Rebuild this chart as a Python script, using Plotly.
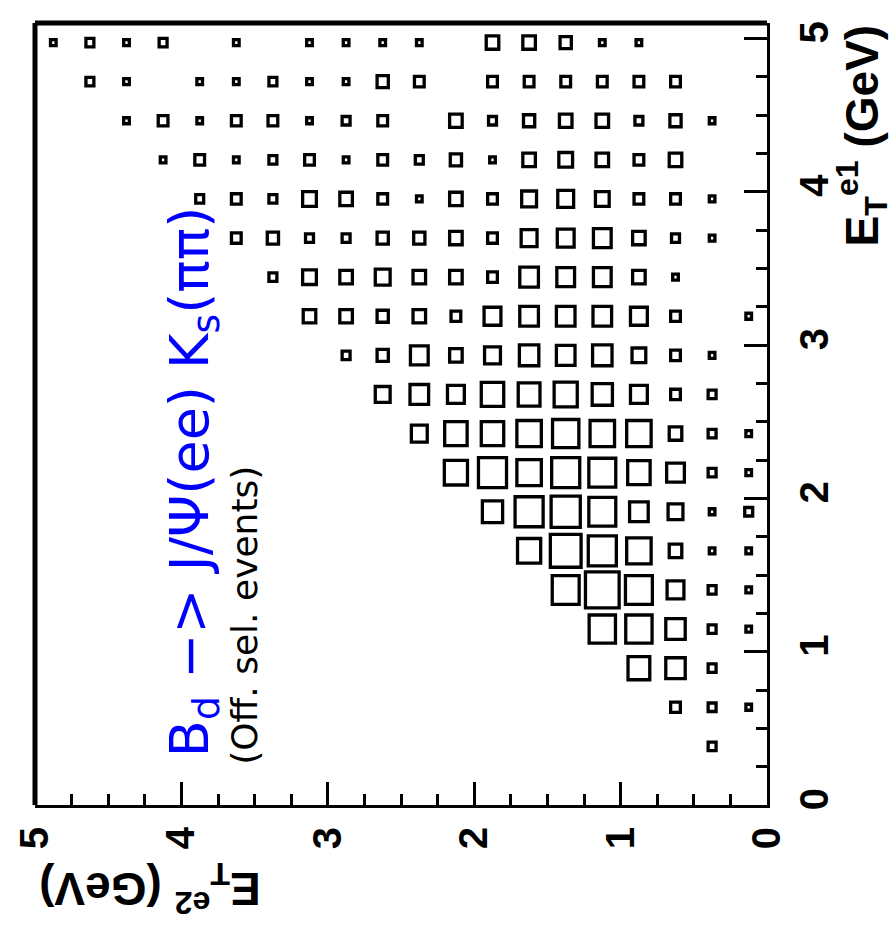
import numpy as np
import plotly.graph_objects as go

# Binning of the two transverse energies (GeV)
E2_RANGE = (0.0, 5.0)   # E_T^e2, 20 bins
E1_RANGE = (0.0, 5.1)   # E_T^e1, 20 bins
N_E2 = 20
N_E1 = 20

# Events per cell; each row is one E_T^e1 bin (lowest first),
# each entry is one E_T^e2 bin (lowest first).
counts = [
    [0] * 20,
    [0, 2] + [0] * 18,
    [1, 2, 3] + [0] * 17,
    [0, 2, 12, 15] + [0] * 16,
    [1, 2, 12, 22, 22] + [0] * 15,
    [1, 2, 9, 23, 36, 23] + [0] * 14,
    [1, 1, 5, 19, 25, 30, 17] + [0] * 13,
    [2, 1, 7, 11, 23, 27, 25, 13] + [0] * 12,
    [1, 2, 10, 16, 23, 25, 19, 25, 17] + [0] * 11,
    [1, 2, 5, 19, 19, 22, 19, 16, 16, 8] + [0] * 10,
    [0, 2, 3, 9, 13, 17, 15, 16, 9, 11, 7] + [0] * 9,
    [0, 1, 3, 6, 12, 11, 12, 8, 5, 10, 4, 2] + [0] * 8,
    [1, 0, 3, 9, 11, 11, 11, 9, 3, 5, 4, 5, 5] + [0] * 7,
    [0, 0, 1, 5, 10, 10, 11, 3, 5, 5, 7, 5, 6, 2] + [0] * 6,
    [0, 1, 2, 5, 10, 9, 8, 3, 5, 4, 4, 2, 2, 4, 3] + [0] * 5,
    [0, 1, 3, 3, 6, 8, 7, 3, 5, 1, 3, 5, 6, 2, 3, 2] + [0] * 4,
    [0, 0, 5, 3, 5, 6, 5, 1, 4, 2, 3, 1, 3, 2, 1, 3, 1] + [0] * 3,
    [0, 1, 4, 2, 5, 5, 4, 2, 5, 0, 3, 2, 1, 3, 3, 1, 3, 1, 0, 0],
    [0, 0, 3, 3, 3, 3, 3, 3, 0, 3, 4, 1, 1, 2, 1, 1, 0, 1, 2, 0],
    [0, 0, 0, 1, 1, 4, 5, 5, 0, 1, 1, 1, 1, 0, 1, 0, 2, 1, 2, 1],
]

TICKS = [0, 1, 2, 3, 4, 5]
TICK_TEXT = ["0", "1", "2", "3", "4", "5"]

TITLE_TEXT = "B<sub>d</sub> −> J/Ψ(ee) K<sub>s</sub>(ππ)"
SUBTITLE_TEXT = "(Off. sel. events)"
E1_TITLE = "<b>E<sub>T</sub><sup>e1</sup> (GeV)</b>"
E2_TITLE = "<b>E<sub>T</sub><sup>e2</sup> (GeV)</b>"

W, H = 890, 933
L, R, T, B = 31, 767, 23, 805   # plot frame in pixels

z = np.array(counts, dtype=float)
zmax = z.max()
dx2 = (E2_RANGE[1] - E2_RANGE[0]) / N_E2
dx1 = (E1_RANGE[1] - E1_RANGE[0]) / N_E1

fig = go.Figure()
# invisible trace so that both axes are created
fig.add_trace(go.Scatter(x=[None], y=[None], mode="markers", showlegend=False,
                         hoverinfo="skip"))

shapes = []
for j in range(N_E1):
    for i in range(N_E2):
        n = z[j, i]
        if n <= 0:
            continue
        frac = 0.92 * np.sqrt(n / zmax)          # box side ~ sqrt(content)
        cx = E2_RANGE[0] + (i + 0.5) * dx2
        cy = E1_RANGE[0] + (j + 0.5) * dx1
        hx = 0.5 * frac * dx2
        hy = 0.5 * frac * dx1
        shapes.append(dict(type="rect", xref="x", yref="y",
                           x0=cx - hx, x1=cx + hx, y0=cy - hy, y1=cy + hy,
                           line=dict(color="black", width=3.3),
                           fillcolor="rgba(0,0,0,0)"))

# heavier frame on the two edges without ticks
shapes.append(dict(type="line", xref="paper", yref="paper", x0=0, x1=0, y0=0, y1=1,
                   line=dict(color="black", width=5)))
shapes.append(dict(type="line", xref="paper", yref="paper", x0=0, x1=1, y0=1, y1=1,
                   line=dict(color="black", width=5)))


def px(xp):
    return (xp - L) / (R - L)


def py(yp):
    return (B - yp) / (B - T)


annotations = [
    dict(text=TITLE_TEXT, xref="paper", yref="paper", x=px(190), y=py(482),
         textangle=-90, showarrow=False, xanchor="center", yanchor="middle",
         font=dict(family="DejaVu Sans", size=54, color="#0000ff")),
    dict(text=SUBTITLE_TEXT, xref="paper", yref="paper", x=px(241), y=py(615),
         textangle=-90, showarrow=False, xanchor="center", yanchor="middle",
         font=dict(family="DejaVu Sans", size=36, color="black")),
    dict(text=E1_TITLE, xref="paper", yref="paper", x=px(862), y=py(135),
         textangle=-90, showarrow=False, xanchor="center", yanchor="middle",
         font=dict(family="Liberation Sans", size=46, color="black")),
    dict(text=E2_TITLE, xref="paper", yref="paper", x=px(146), y=py(889),
         textangle=180, showarrow=False, xanchor="center", yanchor="middle",
         font=dict(family="Liberation Sans", size=46, color="black")),
]

fig.update_layout(
    width=W, height=H,
    margin=dict(l=L, r=W - R, t=T, b=H - B, pad=0),
    paper_bgcolor="white", plot_bgcolor="white",
    shapes=shapes, annotations=annotations, showlegend=False,
    font=dict(family="Liberation Sans", color="black"),
)

bold_ticks = ["<b>%s</b>" % t for t in TICK_TEXT]

fig.update_xaxes(
    range=[E2_RANGE[1], E2_RANGE[0]], showgrid=False, zeroline=False,
    showline=True, linecolor="black", linewidth=3, mirror=False,
    ticks="inside", ticklen=23, tickwidth=3, tickcolor="black",
    tickvals=TICKS, ticktext=bold_ticks, tickangle=-90, ticklabelstandoff=3,
    tickfont=dict(family="Liberation Sans", size=40, color="black"),
    minor=dict(dtick=0.25, ticks="inside", ticklen=11, tickwidth=3, tickcolor="black",
               showgrid=False),
)
fig.update_yaxes(
    range=[E1_RANGE[0], E1_RANGE[1]], side="right", showgrid=False, zeroline=False,
    showline=True, linecolor="black", linewidth=3, mirror=False,
    ticks="inside", ticklen=23, tickwidth=3, tickcolor="black",
    tickvals=TICKS, ticktext=bold_ticks, tickangle=-90, ticklabelstandoff=10,
    tickfont=dict(family="Liberation Sans", size=40, color="black"),
    minor=dict(dtick=0.25, tick0=0, ticks="inside", ticklen=11, tickwidth=3,
               tickcolor="black", showgrid=False),
)

fig.write_html("out.html")
